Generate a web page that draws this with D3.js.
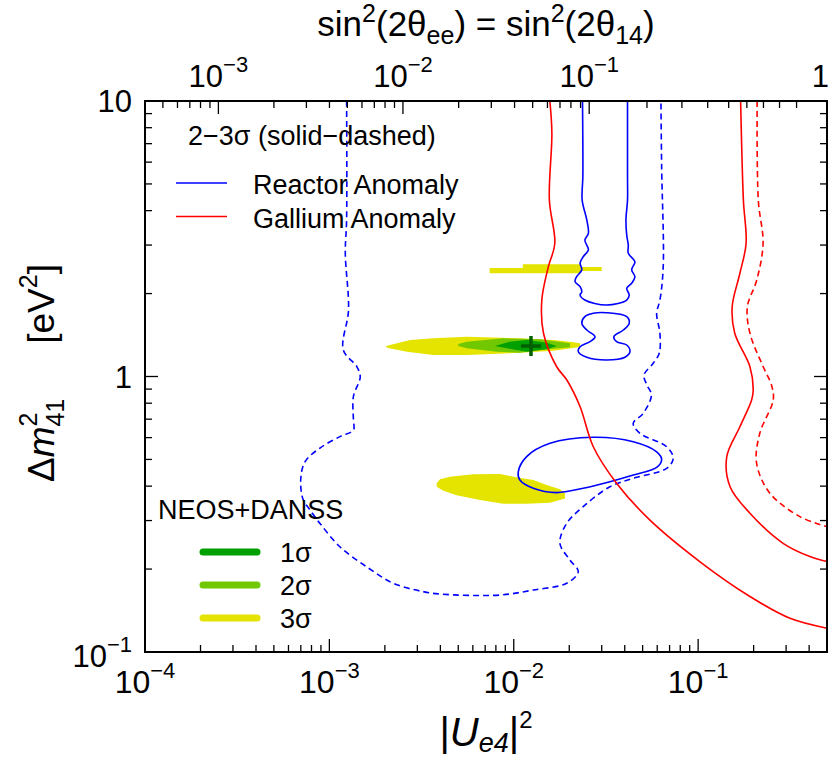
<!DOCTYPE html>
<meta charset="utf-8">
<head>
<style>
    body { margin: 0; background: #ffffff; }
    text { font-family: "Liberation Sans", Arial, Helvetica, sans-serif; fill: #000; }
    .contour { fill: none; stroke-width: 1.6; }
    .dashed { stroke-dasharray: 6, 4; }
</style>
<script src="https://d3js.org/d3.v7.min.js"></script>
</head>
<body>
<svg id="chart"></svg>
<script>

    // axis ticks and labels
    var xTicks = [1e-4, 1e-3, 1e-2, 1e-1];
    var xTickLabels = ["10^−4", "10^−3", "10^−2", "10^−1"];
    var topTicks = [1e-3, 1e-2, 1e-1, 1];
    var topTickLabels = ["10^−3", "10^−2", "10^−1", "1"];
    var yTicks = [0.1, 1, 10];
    var yTickLabels = ["10^−1", "1", "10"];

    // contours, [ |Ue4|^2 , dm41^2 (eV^2) ]
    // reactor anomaly 2 sigma : open tube from the top, a neck and a loop
    var reactor2Tube = [[0.0236,10],[0.0237,5.31],[0.0235,4.37],[0.0249,3.70],[0.0254,3.31],[0.0243,3.13],
        [0.0254,2.88],[0.0238,2.72],[0.0229,2.58],[0.0234,2.44],[0.0219,2.30],[0.0215,2.21],[0.0229,2.12],
        [0.0234,2.03],[0.0229,1.976],[0.0243,1.895],[0.0319,1.817],[0.0410,1.895],[0.0423,1.976],[0.0410,2.09],
        [0.0436,2.18],[0.0454,2.30],[0.0436,2.44],[0.0454,2.61],[0.0418,2.80],[0.0418,3.00],[0.0410,3.26],
        [0.0406,3.70],[0.0414,4.37],[0.0414,5.31],[0.0414,10]];
    var reactor2Neck = [[0.0319,1.704],[0.0410,1.649],[0.0423,1.560],[0.0393,1.475],[0.0349,1.394],[0.0361,1.338],
        [0.0410,1.301],[0.0427,1.230],[0.0401,1.174],[0.0319,1.148],[0.0249,1.174],[0.0224,1.230],[0.0229,1.283],
        [0.0259,1.338],[0.0276,1.394],[0.0249,1.475],[0.0234,1.560],[0.0243,1.649],[0.0270,1.696]];
    var reactor2Loop = [[0.01058,0.451],[0.01175,0.512],[0.01572,0.572],[0.0270,0.602],[0.0445,0.580],[0.0596,0.533],
        [0.0634,0.500],[0.0596,0.468],[0.0445,0.439],[0.0332,0.415],[0.0238,0.393],[0.0171,0.379],[0.01276,0.393],
        [0.01080,0.421]];
    // reactor anomaly 3 sigma
    var reactor3 = [[0.00124,10],[0.00124,3.70],[0.00122,2.80],[0.00127,1.744],[0.00119,1.248],[0.00141,1.085],
        [0.00147,0.998],[0.00135,0.845],[0.00135,0.695],[0.00135,0.639],[0.00114,0.605],[0.000889,0.550],
        [0.000737,0.490],[0.000699,0.421],[0.000722,0.356],[0.000785,0.328],[0.000889,0.293],[0.00114,0.241],
        [0.00159,0.204],[0.00222,0.1776],[0.00323,0.1656],[0.00398,0.1623],[0.00842,0.1610],[0.01276,0.1679],
        [0.01936,0.1776],[0.02238,0.1956],[0.02017,0.2158],[0.01780,0.248],[0.01936,0.293],[0.02381,0.3369],
        [0.03323,0.398],[0.04446,0.427],[0.06749,0.464],[0.07328,0.505],[0.06749,0.556],[0.04835,0.622],
        [0.04446,0.676],[0.05038,0.735],[0.05582,0.857],[0.05276,0.931],[0.05083,1.012],[0.05708,1.117],
        [0.06153,1.214],[0.06206,1.435],[0.05956,1.696],[0.06206,1.895],[0.06467,2.503],[0.06340,5.77],[0.06285,10]];
    // gallium anomaly
    var gallium2Left = [[0.0157,10],[0.0161,7.63],[0.0156,4.37],[0.0167,3.04],[0.0154,2.50],[0.0142,1.895],
        [0.0145,1.435],[0.0171,1.085],[0.0194,0.971],[0.0229,0.777],[0.0270,0.556],[0.0361,0.410],[0.0548,0.301],
        [0.102,0.213],[0.191,0.159],[0.315,0.1325],[0.5,0.122]];
    var gallium2Right = [[0.170,10],[0.176,4.37],[0.182,3.04],[0.1685,2.37],[0.153,1.792],[0.158,1.435],
        [0.191,1.085],[0.199,0.893],[0.195,0.822],[0.1685,0.657],[0.143,0.512],[0.149,0.398],[0.191,0.319],
        [0.289,0.248],[0.404,0.222],[0.5,0.213]];
    var gallium3 = [[0.209,10],[0.212,4.37],[0.225,3.04],[0.208,2.24],[0.185,1.792],[0.191,1.435],[0.2254,1.085],
        [0.250,0.931],[0.2555,0.822],[0.216,0.622],[0.2076,0.484],[0.245,0.377],[0.3565,0.310],[0.5,0.285]];

    // NEOS+DANSS allowed regions
    var neos3Upper = [[0.0074,2.476],[0.0112,2.476],[0.0112,2.555],[0.0229,2.555],[0.0229,2.497],[0.0300,2.497],
        [0.0300,2.415],[0.0229,2.415],[0.0229,2.37],[0.0074,2.37]];
    var neos3Mid = [[0.00203,1.290],[0.00274,1.357],[0.00366,1.376],[0.00556,1.394],[0.0108,1.376],[0.0164,1.357],
        [0.0202,1.338],[0.0229,1.320],[0.0229,1.280],[0.0164,1.240],[0.0108,1.220],[0.00556,1.197],[0.00366,1.197],
        [0.00263,1.230],[0.00205,1.272]];
    var neos3Low = [[0.00382,0.410],[0.00398,0.4235],[0.00451,0.433],[0.00603,0.442],[0.00842,0.443],[0.00994,0.433],
        [0.01276,0.421],[0.01508,0.404],[0.0178,0.390],[0.01895,0.377],[0.01895,0.361],[0.01572,0.348],[0.01175,0.345],
        [0.00877,0.345],[0.00656,0.356],[0.0049,0.371],[0.00415,0.385],[0.00382,0.398]];
    var neos2 = [[0.0050,1.312],[0.00556,1.338],[0.00877,1.376],[0.0139,1.365],[0.0202,1.320],[0.0202,1.276],
        [0.0139,1.248],[0.0108,1.220],[0.00808,1.230],[0.00556,1.266],[0.0050,1.290]];
    var neos1 = [[0.0079,1.290],[0.0095,1.338],[0.01175,1.357],[0.0151,1.327],[0.0171,1.290],[0.0151,1.255],
        [0.01175,1.230],[0.0092,1.266]];
    var bestFit = [0.0124, 1.29];

    var neosLevels = ["1σ", "2σ", "3σ"];
    var neosColors = ["#00a000", "#72c800", "#e4e400"];
    var anomalyNames = ["Reactor Anomaly", "Gallium Anomaly"];
    var anomalyColors = ["#0000ff", "#ff0000"];

    var width = 830, height = 760;
    var plot = {left: 145, right: 827, top: 101, bottom: 652};

    var svg = d3.select("#chart")
        .attr("width", width)
        .attr("height", height);

    var x = d3.scaleLog().domain([1e-4, 0.5]).range([plot.left, plot.right]);
    var y = d3.scaleLog().domain([0.1, 10]).range([plot.bottom, plot.top]);

    // sin^2(2theta) = 4U(1-U)
    function sinToU(s) { return (1 - Math.sqrt(1 - s)) / 2; }

    svg.append("clipPath").attr("id", "plotclip")
        .append("rect")
        .attr("x", plot.left).attr("y", plot.top)
        .attr("width", plot.right - plot.left).attr("height", plot.bottom - plot.top);

    var g = svg.append("g").attr("clip-path", "url(#plotclip)");

    var area = d3.line().x(d => x(d[0])).y(d => y(d[1])).curve(d3.curveLinearClosed);
    var smoothOpen = d3.line().x(d => x(d[0])).y(d => y(d[1])).curve(d3.curveCatmullRom.alpha(0.5));
    var smoothClosed = d3.line().x(d => x(d[0])).y(d => y(d[1])).curve(d3.curveCatmullRomClosed.alpha(0.5));

    // filled regions
    [neos3Upper, neos3Mid, neos3Low].forEach(function(r){
        g.append("path").attr("d", area(r)).style("fill", neosColors[2]);
    });
    g.append("path").attr("d", area(neos2)).style("fill", neosColors[1]);
    g.append("path").attr("d", area(neos1)).style("fill", neosColors[0]);

    // best fit cross
    g.append("path")
        .attr("d", "M" + (x(bestFit[0]) - 10) + "," + y(bestFit[1]) + "h20M" + x(bestFit[0]) + "," + (y(bestFit[1]) - 10) + "v20")
        .style("stroke", "#006000").style("stroke-width", 3.5).style("fill", "none");

    // contour lines
    g.append("path").attr("class", "contour dashed").attr("d", smoothOpen(reactor3)).style("stroke", anomalyColors[0]);
    g.append("path").attr("class", "contour").attr("d", smoothOpen(reactor2Tube)).style("stroke", anomalyColors[0]);
    g.append("path").attr("class", "contour").attr("d", smoothClosed(reactor2Neck)).style("stroke", anomalyColors[0]);
    g.append("path").attr("class", "contour").attr("d", smoothClosed(reactor2Loop)).style("stroke", anomalyColors[0]);
    g.append("path").attr("class", "contour dashed").attr("d", smoothOpen(gallium3)).style("stroke", anomalyColors[1]);
    g.append("path").attr("class", "contour").attr("d", smoothOpen(gallium2Left)).style("stroke", anomalyColors[1]);
    g.append("path").attr("class", "contour").attr("d", smoothOpen(gallium2Right)).style("stroke", anomalyColors[1]);

    // frame
    svg.append("rect")
        .attr("x", plot.left).attr("y", plot.top)
        .attr("width", plot.right - plot.left).attr("height", plot.bottom - plot.top)
        .style("fill", "none").style("stroke", "#000").style("stroke-width", 2);

    // ticks (inward)
    var ticks = svg.append("g").style("stroke", "#000").style("stroke-width", 1.3);
    function minorValues(lo, hi, from) {
        var out = [];
        for (var e = -4; e <= 1; e++)
            for (var k = from; k <= 9; k++) {
                var v = k * Math.pow(10, e);
                if (v >= lo && v <= hi) out.push(v);
            }
        return out;
    }
    minorValues(1e-4, 0.5, 2).forEach(function(v){
        ticks.append("line").attr("x1", x(v)).attr("x2", x(v)).attr("y1", plot.bottom).attr("y2", plot.bottom - 7);
    });
    xTicks.forEach(function(v){
        ticks.append("line").attr("x1", x(v)).attr("x2", x(v)).attr("y1", plot.bottom).attr("y2", plot.bottom - 13);
    });
    minorValues(4e-4, 1, 2).forEach(function(v){
        var px = x(sinToU(v));
        ticks.append("line").attr("x1", px).attr("x2", px).attr("y1", plot.top).attr("y2", plot.top + 7);
    });
    topTicks.forEach(function(v){
        var px = x(sinToU(v));
        ticks.append("line").attr("x1", px).attr("x2", px).attr("y1", plot.top).attr("y2", plot.top + 13);
    });
    minorValues(0.1, 10, 2).forEach(function(v){
        ticks.append("line").attr("x1", plot.left).attr("x2", plot.left + 7).attr("y1", y(v)).attr("y2", y(v));
        ticks.append("line").attr("x1", plot.right).attr("x2", plot.right - 7).attr("y1", y(v)).attr("y2", y(v));
    });
    yTicks.forEach(function(v){
        ticks.append("line").attr("x1", plot.left).attr("x2", plot.left + 13).attr("y1", y(v)).attr("y2", y(v));
        ticks.append("line").attr("x1", plot.right).attr("x2", plot.right - 13).attr("y1", y(v)).attr("y2", y(v));
    });

    // power-of-ten tick label
    function powLabel(sel, label) {
        var parts = label.split("^");
        sel.append("tspan").text(parts[0]);
        if (parts.length > 1)
            sel.append("tspan").attr("dy", -15).style("font-size", "22px").text(parts[1]);
    }

    xTicks.forEach(function(v, i){
        var t = svg.append("text").attr("x", x(v)).attr("y", 693)
            .attr("text-anchor", "middle").style("font-size", "32px");
        powLabel(t, xTickLabels[i]);
    });
    topTicks.forEach(function(v, i){
        var t = svg.append("text").attr("x", x(sinToU(v))).attr("y", 87)
            .attr("text-anchor", "middle").style("font-size", "31px");
        powLabel(t, topTickLabels[i]);
        // keep the last label inside the page
        var b = t.node().getBBox();
        if (b.x + b.width > width - 1)
            t.attr("x", width - 1).attr("text-anchor", "end");
    });
    yTicks.forEach(function(v, i){
        var hasExp = yTickLabels[i].indexOf("^") >= 0;
        var t = svg.append("text").attr("x", 132).attr("y", y(v) + (hasExp ? 15 : 11))
            .attr("text-anchor", "end").style("font-size", "31px");
        powLabel(t, yTickLabels[i]);
    });

    // axis titles
    var tt = svg.append("text").attr("x", 486).attr("y", 36)
        .attr("text-anchor", "middle").style("font-size", "35px");
    tt.append("tspan").text("sin");
    tt.append("tspan").attr("dy", -14).style("font-size", "25px").text("2");
    tt.append("tspan").attr("dy", 14).text("(2θ");
    tt.append("tspan").attr("dy", 8).style("font-size", "25px").text("ee");
    tt.append("tspan").attr("dy", -8).text(") = sin");
    tt.append("tspan").attr("dy", -14).style("font-size", "25px").text("2");
    tt.append("tspan").attr("dy", 14).text("(2θ");
    tt.append("tspan").attr("dy", 8).style("font-size", "25px").text("14");
    tt.append("tspan").attr("dy", -8).text(")");

    var xt = svg.append("text").attr("x", 486).attr("y", 746)
        .attr("text-anchor", "middle").style("font-size", "40px");
    xt.append("tspan").text("|");
    xt.append("tspan").style("font-style", "italic").text("U");
    xt.append("tspan").attr("dy", 6).style("font-size", "27px").style("font-style", "italic").text("e4");
    xt.append("tspan").attr("dy", -6).text("|");
    xt.append("tspan").attr("dy", -18).style("font-size", "24px").text("2");

    var yt = svg.append("text").attr("transform", "translate(54,373) rotate(-90)")
        .attr("text-anchor", "middle").style("font-size", "37px");
    yt.append("tspan").text("Δ");
    yt.append("tspan").style("font-style", "italic").text("m");
    yt.append("tspan").attr("dy", -17).style("font-size", "25px").text("2");
    yt.append("tspan").attr("dx", -14).attr("dy", 27).style("font-size", "25px").text("41");
    yt.append("tspan").attr("dx", 55).attr("dy", -10).text("[eV");
    yt.append("tspan").attr("dy", -17).style("font-size", "25px").text("2");
    yt.append("tspan").attr("dy", 17).text("]");

    // legends
    svg.append("text").attr("x", 188).attr("y", 145).style("font-size", "27px").text("2−3σ (solid−dashed)");
    anomalyNames.forEach(function(name, i){
        var ly = 183 + i * 33.5;
        svg.append("line").attr("x1", 176).attr("x2", 227).attr("y1", ly).attr("y2", ly)
            .style("stroke", anomalyColors[i]).style("stroke-width", 1.6);
        svg.append("text").attr("x", 253).attr("y", ly + 11).style("font-size", "27px").text(name);
    });

    svg.append("text").attr("x", 158).attr("y", 519).style("font-size", "27px").text("NEOS+DANSS");
    neosLevels.forEach(function(name, i){
        var ly = 552 + i * 33;
        svg.append("line").attr("x1", 203).attr("x2", 257).attr("y1", ly).attr("y2", ly)
            .style("stroke", neosColors[i]).style("stroke-width", 7).style("stroke-linecap", "round");
        svg.append("text").attr("x", 280).attr("y", ly + 10).style("font-size", "27px").text(name);
    });

</script>
</body>
</html>
